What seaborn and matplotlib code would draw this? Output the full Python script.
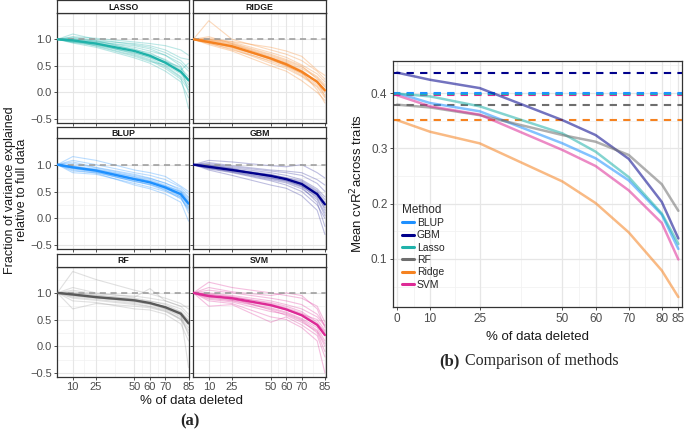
import numpy as np
import pandas as pd
import matplotlib
matplotlib.use("Agg")
import matplotlib.pyplot as plt
from matplotlib.lines import Line2D
import seaborn as sns

# ---------------- data ----------------
x_left = [0, 10, 25, 50, 60, 70, 80, 85]
x_left_ticks = [10, 25, 50, 60, 70, 85]
x_right = [0, 10, 25, 50, 60, 70, 80, 85]
x_right_ticks = [0, 10, 25, 50, 60, 70, 80, 85]

facet_order = ["LASSO", "RIDGE", "BLUP", "GBM", "RF", "SVM"]

lasso_mean = [1.0, 0.98, 0.92, 0.78, 0.69, 0.56, 0.39, 0.23]
ridge_mean = [1.0, 0.95, 0.87, 0.64, 0.53, 0.39, 0.20, 0.04]
blup_mean = [1.0, 0.95, 0.89, 0.73, 0.67, 0.575, 0.45, 0.275]
gbm_mean = [1.0, 0.96, 0.90, 0.79, 0.73, 0.64, 0.45, 0.26]
rf_mean = [1.0, 0.97, 0.92, 0.86, 0.81, 0.73, 0.61, 0.43]
svm_mean = [1.0, 0.94, 0.90, 0.77, 0.69, 0.58, 0.40, 0.21]

lasso_traits = [
    [1, 1.05, 1.02, 0.95, 0.92, 0.88, 0.80, 0.70],
    [1, 1.10, 1.00, 0.90, 0.85, 0.75, 0.60, 0.45],
    [1, 0.95, 0.88, 0.70, 0.60, 0.45, 0.25, 0.05],
    [1, 0.98, 0.94, 0.82, 0.72, 0.62, 0.45, 0.30],
    [1, 1.02, 0.96, 0.85, 0.78, 0.70, 0.55, 0.40],
    [1, 0.93, 0.85, 0.65, 0.55, 0.40, 0.20, -0.10],
    [1, 0.97, 0.90, 0.75, 0.65, 0.50, 0.30, 0.10],
    [1, 1.00, 0.95, 0.88, 0.82, 0.70, 0.50, 0.20],
    [1, 0.96, 0.92, 0.72, 0.62, 0.48, 0.28, -0.30],
    [1, 1.04, 0.98, 0.80, 0.75, 0.60, 0.42, 0.55],
    [1, 0.99, 0.87, 0.68, 0.58, 0.52, 0.35, 0.15],
    [1, 0.95, 0.93, 0.78, 0.70, 0.58, 0.48, 0.00],
    [1, 1.01, 0.97, 0.92, 0.88, 0.80, 0.65, 0.62],
    [1, 0.94, 0.89, 0.74, 0.66, 0.55, 0.38, 0.25],
]
ridge_traits = [
    [1, 1.35, 1.00, 0.80, 0.72, 0.60, 0.40, 0.25],
    [1, 1.00, 0.95, 0.75, 0.66, 0.52, 0.35, 0.20],
    [1, 0.92, 0.82, 0.55, 0.45, 0.30, 0.10, -0.10],
    [1, 0.95, 0.86, 0.62, 0.50, 0.35, 0.15, 0.00],
    [1, 1.05, 0.92, 0.70, 0.60, 0.48, 0.30, 0.15],
    [1, 0.90, 0.78, 0.50, 0.40, 0.22, 0.00, -0.15],
    [1, 0.98, 0.90, 0.68, 0.58, 0.45, 0.28, 0.10],
    [1, 1.02, 0.96, 0.85, 0.78, 0.68, 0.42, 0.32],
    [1, 0.94, 0.84, 0.58, 0.48, 0.32, 0.12, -0.05],
    [1, 0.97, 0.88, 0.65, 0.55, 0.40, 0.18, 0.05],
    [1, 0.93, 0.80, 0.60, 0.52, 0.38, 0.05, -0.20],
    [1, 1.00, 0.93, 0.72, 0.62, 0.50, 0.25, 0.12],
    [1, 0.96, 0.85, 0.63, 0.50, 0.36, 0.22, -0.08],
    [1, 0.99, 0.91, 0.66, 0.56, 0.42, 0.20, 0.02],
]
blup_traits = [
    [1, 1.15, 1.08, 0.90, 0.85, 0.78, 0.60, 0.50],
    [1, 0.85, 0.82, 0.65, 0.58, 0.50, 0.38, 0.15],
    [1, 0.98, 0.92, 0.78, 0.72, 0.62, 0.50, 0.35],
    [1, 0.92, 0.86, 0.70, 0.62, 0.52, 0.40, 0.20],
    [1, 1.05, 0.95, 0.82, 0.75, 0.65, 0.55, 0.40],
    [1, 0.94, 0.88, 0.72, 0.66, 0.58, 0.42, 0.25],
    [1, 0.96, 0.90, 0.75, 0.70, 0.60, 0.48, 0.30],
    [1, 0.90, 0.84, 0.62, 0.55, 0.45, 0.30, -0.05],
    [1, 1.02, 0.94, 0.80, 0.74, 0.66, 0.52, 0.38],
    [1, 0.93, 0.87, 0.68, 0.63, 0.55, 0.44, 0.22],
    [1, 1.08, 1.00, 0.85, 0.80, 0.72, 0.58, 0.45],
    [1, 0.97, 0.89, 0.74, 0.68, 0.56, 0.40, 0.10],
    [1, 0.95, 0.91, 0.77, 0.69, 0.60, 0.50, 0.32],
    [1, 0.88, 0.85, 0.69, 0.64, 0.53, 0.36, 0.18],
]
gbm_traits = [
    [1, 1.08, 1.05, 0.98, 0.96, 1.00, 0.85, 0.75],
    [1, 0.92, 0.85, 0.70, 0.62, 0.50, 0.25, 0.00],
    [1, 0.98, 0.92, 0.82, 0.75, 0.68, 0.50, 0.30],
    [1, 0.95, 0.88, 0.75, 0.70, 0.60, 0.40, 0.20],
    [1, 1.02, 0.96, 0.88, 0.85, 0.80, 0.65, 0.50],
    [1, 0.90, 0.80, 0.62, 0.56, 0.42, 0.15, -0.30],
    [1, 0.97, 0.91, 0.80, 0.72, 0.62, 0.42, 0.25],
    [1, 1.00, 0.94, 0.85, 0.80, 0.72, 0.55, 0.40],
    [1, 0.94, 0.86, 0.72, 0.66, 0.55, 0.35, 0.05],
    [1, 0.96, 0.90, 0.78, 0.74, 0.66, 0.48, 0.15],
    [1, 0.99, 0.93, 0.76, 0.70, 0.60, 0.38, 0.10],
    [1, 1.04, 0.98, 0.90, 0.88, 0.85, 0.72, 0.62],
    [1, 0.93, 0.87, 0.74, 0.68, 0.58, 0.30, -0.15],
    [1, 0.97, 0.89, 0.81, 0.76, 0.70, 0.52, 0.35],
]
rf_traits = [
    [1, 1.40, 1.25, 1.05, 0.98, 0.90, 0.80, 0.70],
    [1, 0.70, 0.80, 0.75, 0.72, 0.65, 0.50, 0.30],
    [1, 1.10, 1.00, 0.92, 1.08, 0.85, 0.75, 0.60],
    [1, 0.95, 0.90, 0.85, 0.80, 0.70, 0.55, 0.40],
    [1, 1.00, 0.95, 0.90, 0.85, 0.78, 0.65, 0.50],
    [1, 0.85, 0.82, 0.70, 0.68, 0.60, 0.42, 0.10],
    [1, 0.98, 0.92, 0.88, 0.84, 0.80, 0.70, 0.55],
    [1, 1.05, 0.98, 0.94, 0.90, 0.85, 0.75, 0.75],
    [1, 0.92, 0.88, 0.80, 0.75, 0.68, 0.50, 0.25],
    [1, 0.96, 0.93, 0.86, 0.82, 0.72, 0.60, -0.40],
    [1, 1.02, 0.96, 0.88, 0.80, 0.74, 0.62, 0.45],
    [1, 0.90, 0.86, 0.78, 0.74, 0.66, 0.52, 0.35],
    [1, 0.99, 0.94, 0.84, 0.78, 0.70, 0.58, 0.20],
    [1, 0.94, 0.91, 0.82, 0.79, 0.75, 0.64, 0.48],
]
svm_traits = [
    [1, 1.20, 1.10, 1.00, 0.95, 0.90, 0.75, 0.45],
    [1, 0.75, 0.78, 0.45, 0.55, 0.40, 0.20, -0.20],
    [1, 0.98, 0.92, 0.82, 0.75, 0.65, 0.45, 0.25],
    [1, 0.90, 0.85, 0.70, 0.62, 0.50, 0.30, 0.05],
    [1, 1.05, 1.00, 0.90, 0.85, 0.78, 0.60, 0.40],
    [1, 0.85, 0.80, 0.55, 0.50, 0.35, 0.10, -0.50],
    [1, 0.95, 0.88, 0.75, 0.68, 0.58, 0.40, 0.20],
    [1, 1.10, 1.02, 0.95, 1.00, 0.95, 0.70, 0.35],
    [1, 0.92, 0.86, 0.72, 0.64, 0.52, 0.35, 0.10],
    [1, 0.97, 0.93, 0.80, 0.72, 0.62, 0.42, 0.28],
    [1, 0.88, 0.83, 0.65, 0.60, 0.48, 0.25, -0.10],
    [1, 1.00, 0.95, 0.85, 0.78, 0.70, 0.55, 0.38],
    [1, 0.93, 0.90, 0.68, 0.58, 0.45, 0.28, 0.00],
    [1, 0.96, 0.87, 0.78, 0.70, 0.60, 0.50, 0.30],
]

methods = ["BLUP", "GBM", "Lasso", "RF", "Ridge", "SVM"]
blup_r2 = [0.400, 0.382, 0.367, 0.309, 0.282, 0.242, 0.180, 0.118]
gbm_r2 = [0.437, 0.424, 0.409, 0.351, 0.324, 0.281, 0.203, 0.137]
lasso_r2 = [0.399, 0.394, 0.376, 0.327, 0.294, 0.248, 0.182, 0.127]
rf_r2 = [0.379, 0.374, 0.360, 0.324, 0.312, 0.288, 0.235, 0.187]
ridge_r2 = [0.351, 0.330, 0.309, 0.240, 0.201, 0.148, 0.079, 0.031]
svm_r2 = [0.396, 0.376, 0.361, 0.297, 0.268, 0.224, 0.165, 0.099]

# ---------------- styling ----------------
colors = {
    "BLUP": "#1E90FF", "GBM": "#00008B", "Lasso": "#20B2AA",
    "RF": "#6E6E6E", "Ridge": "#F58220", "SVM": "#DD2A96",
}
facet_color = {"LASSO": colors["Lasso"], "RIDGE": colors["Ridge"], "BLUP": colors["BLUP"],
               "GBM": colors["GBM"], "RF": "#5A5A5A", "SVM": colors["SVM"]}
trait_color = {"LASSO": colors["Lasso"], "RIDGE": colors["Ridge"], "BLUP": colors["BLUP"],
               "GBM": "#2B2B9A", "RF": "#9A9A9A", "SVM": colors["SVM"]}

facet_means = {"LASSO": lasso_mean, "RIDGE": ridge_mean, "BLUP": blup_mean,
               "GBM": gbm_mean, "RF": rf_mean, "SVM": svm_mean}
facet_traits = {"LASSO": lasso_traits, "RIDGE": ridge_traits, "BLUP": blup_traits,
                "GBM": gbm_traits, "RF": rf_traits, "SVM": svm_traits}
r2 = {"BLUP": blup_r2, "GBM": gbm_r2, "Lasso": lasso_r2, "RF": rf_r2,
      "Ridge": ridge_r2, "SVM": svm_r2}

rows = []
for f in facet_order:
    for t, vals in enumerate(facet_traits[f]):
        for xv, yv in zip(x_left, vals):
            rows.append((f, t, xv, yv))
traits_df = pd.DataFrame(rows, columns=["facet", "trait", "x", "y"])
mean_df = pd.DataFrame([(f, xv, yv) for f in facet_order for xv, yv in zip(x_left, facet_means[f])],
                       columns=["facet", "x", "y"])
r2_df = pd.DataFrame([(m, xv, yv) for m in methods for xv, yv in zip(x_right, r2[m])],
                     columns=["Method", "x", "y"])

sns.set_theme(style="white")
plt.rcParams["font.family"] = ["Liberation Sans", "DejaVu Sans"]

W, H = 685, 433
fig = plt.figure(figsize=(W / 100, H / 100), dpi=100)

def fax(x0, y0, x1, y1):
    return fig.add_axes([x0 / W, 1 - y1 / H, (x1 - x0) / W, (y1 - y0) / H])

cols = [(57.3, 189.3), (193.3, 325.7)]
rows_px = [((0.5, 13.3), (13.3, 122.7)), ((126.7, 138.3), (138.3, 249.0)), ((254.0, 266.7), (266.7, 376.7))]
tick_col = "#4D4D4D"
grid_major = "#E6E6E6"
grid_minor = "#F2F2F2"

for i, f in enumerate(facet_order):
    r, c = divmod(i, 2)
    (sy0, sy1), (py0, py1) = rows_px[r]
    x0, x1 = cols[c]
    ax = fax(x0, py0, x1, py1)
    for gx in [17.5, 37.5, 55, 65, 77.5]:
        ax.axvline(gx, color=grid_minor, lw=0.5, zorder=0)
    for gy in [-0.25, 0.25, 0.75, 1.25]:
        ax.axhline(gy, color=grid_minor, lw=0.5, zorder=0)
    for gx in x_left_ticks:
        ax.axvline(gx, color=grid_major, lw=0.8, zorder=0)
    for gy in [-0.5, 0, 0.5, 1.0]:
        ax.axhline(gy, color=grid_major, lw=0.8, zorder=0)
    sub = traits_df[traits_df.facet == f]
    sns.lineplot(data=sub, x="x", y="y", units="trait", estimator=None, color=trait_color[f],
                 alpha=0.3, lw=0.8, ax=ax, legend=False)
    ax.axhline(1.0, color="#999999", lw=1.1, ls=(0, (4, 3)), zorder=3)
    sns.lineplot(data=mean_df[mean_df.facet == f], x="x", y="y", color=facet_color[f], lw=1.7,
                 ax=ax, legend=False, zorder=4)
    ax.set_xlim(0, 85.5)
    ax.set_ylim(-0.57, 1.49)
    ax.set_xlabel("")
    ax.set_ylabel("")
    ax.set_yticks([-0.5, 0, 0.5, 1.0])
    ax.set_xticks(x_left_ticks)
    if c == 0:
        ax.set_yticklabels(["\u22120.5", "0.0", "0.5", "1.0"], fontsize=8, color=tick_col)
    else:
        ax.set_yticklabels([])
    if r == 2:
        ax.set_xticklabels([str(v) for v in x_left_ticks], fontsize=8, color=tick_col)
    else:
        ax.set_xticklabels([])
    ax.tick_params(axis="both", length=2.5, width=0.6, color="#333333", pad=1.5,
                   bottom=True, left=True)
    for s in ax.spines.values():
        s.set_color("#333333")
        s.set_linewidth(0.9)
    sax = fax(x0, sy0, x1, sy1)
    sax.set_xticks([])
    sax.set_yticks([])
    sax.set_facecolor("white")
    for s in sax.spines.values():
        s.set_color("#333333")
        s.set_linewidth(0.9)
    sax.text(0.5, 0.45, f, ha="center", va="center", fontsize=6.3, fontweight="bold",
             transform=sax.transAxes, color="#1A1A1A")

fig.text(16 / W, 1 - 190 / H, "Fraction of variance explained\nrelative to full data",
         rotation=90, ha="center", va="center", fontsize=9, color="#1A1A1A", linespacing=1.1)
fig.text(191 / W, 1 - 401 / H, "% of data deleted", ha="center", va="center",
         fontsize=9.5, color="#1A1A1A")
fig.text(190 / W, 1 - 421 / H, "(a)", ha="center", va="center", fontsize=12,
         fontweight="bold", family=["Liberation Serif", "DejaVu Serif"])

# ---------------- right panel ----------------
axr = fax(393, 61, 682, 307)
for gy in [0.05, 0.15, 0.25, 0.35, 0.45]:
    axr.axhline(gy, color=grid_minor, lw=0.6, zorder=0)
for gx in [5, 17.5, 37.5, 55, 65, 75, 82.5]:
    axr.axvline(gx, color=grid_minor, lw=0.6, zorder=0)
for gy in [0.1, 0.2, 0.3, 0.4]:
    axr.axhline(gy, color=grid_major, lw=0.9, zorder=0)
for gx in x_right_ticks:
    axr.axvline(gx, color=grid_major, lw=0.9, zorder=0)

for m in ["Ridge", "RF", "SVM", "Lasso", "BLUP", "GBM"]:
    axr.axhline(r2[m][0], color=colors[m], lw=1.5, ls=(0, (3.5, 3)), zorder=2)

sns.lineplot(data=r2_df, x="x", y="y", hue="Method", hue_order=methods, palette=colors,
             lw=1.8, alpha=0.55, ax=axr, legend=False, zorder=3)
axr.set_xlim(-1.2, 86.1)
axr.set_ylim(0.013, 0.458)
axr.set_xticks(x_right_ticks)
axr.set_xticklabels([str(v) for v in x_right_ticks], fontsize=8.5, color=tick_col)
axr.set_yticks([0.1, 0.2, 0.3, 0.4])
axr.set_yticklabels(["0.1", "0.2", "0.3", "0.4"], fontsize=8.5, color=tick_col)
axr.tick_params(axis="both", length=2.5, width=0.6, color="#333333", pad=1.5,
                bottom=True, left=True)
axr.set_xlabel("% of data deleted", fontsize=9.5, color="#1A1A1A", labelpad=5)
axr.set_ylabel("Mean cvR$^2$across traits", fontsize=9.5, color="#1A1A1A", labelpad=4)
for s in axr.spines.values():
    s.set_color("#333333")
    s.set_linewidth(0.9)

handles = [Line2D([0], [0], color=colors[m], lw=2.2) for m in methods]
leg = axr.legend(handles, methods, title="Method", loc="upper left",
                 bbox_to_anchor=(0.01, 0.445), frameon=False, fontsize=7.5,
                 title_fontsize=8.5, handlelength=1.1, handletextpad=0.3,
                 labelspacing=0.22, borderaxespad=0.2)
leg._legend_box.align = "left"

fig.text(460 / W, 1 - 361 / H, "(b)", ha="right", va="center", fontsize=12,
         fontweight="bold", family=["Liberation Serif", "DejaVu Serif"])
fig.text(465 / W, 1 - 361 / H, "Comparison of methods", ha="left", va="center",
         fontsize=11.5, family=["Liberation Serif", "DejaVu Serif"])

fig.savefig("out.png", dpi=100)
